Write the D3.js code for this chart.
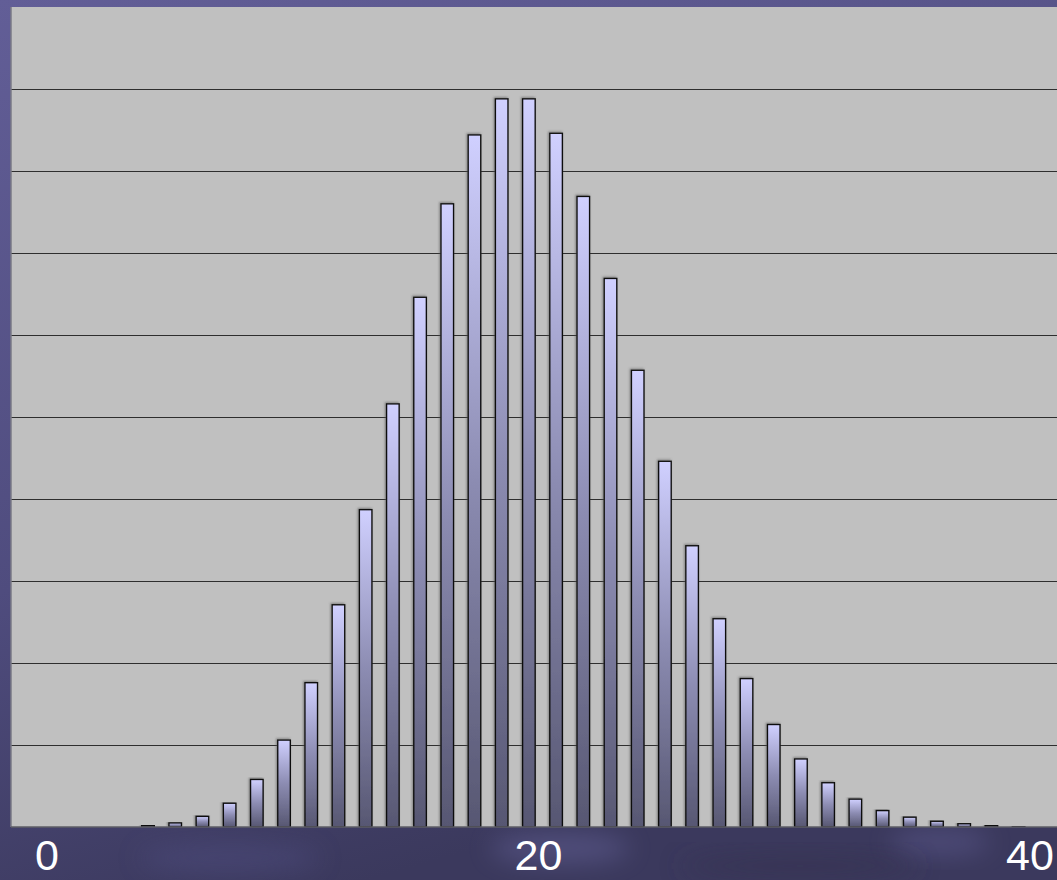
<!DOCTYPE html>
<html>
<head>
<meta charset="utf-8">
<script src="https://cdn.jsdelivr.net/npm/d3@7"></script>
<style>
  html, body { margin: 0; padding: 0; background: #47456e; overflow: hidden; }
  svg { display: block; }
</style>
</head>
<body>
<svg id="chart" width="1057" height="880"></svg>
<script>
// Outcome counts k and their probabilities
const categories = [6, 7, 8, 9, 10, 11, 12, 13, 14, 15, 16, 17, 18, 19, 20, 21, 22,
                    23, 24, 25, 26, 27, 28, 29, 30, 31, 32, 33, 34, 35, 36, 37, 38];
const probabilities = [0.0002, 0.0005, 0.0013, 0.0029, 0.0058, 0.0106, 0.0176, 0.0271,
                       0.0387, 0.0516, 0.0646, 0.0760, 0.0844, 0.0888, 0.0888, 0.0846,
                       0.0769, 0.0669, 0.0557, 0.0446, 0.0343, 0.0254, 0.0181, 0.0125,
                       0.0083, 0.0054, 0.0034, 0.0020, 0.0012, 0.0007, 0.0004, 0.0002,
                       0.0001];
const gridValues = [0.01, 0.02, 0.03, 0.04, 0.05, 0.06, 0.07, 0.08, 0.09];
const axisLabels = [0, 20, 40];

const W = 1057, H = 880;
const plot = { left: 11, top: 7, right: 1057, bottom: 827 };

const svg = d3.select("#chart");
const defs = svg.append("defs");

// Slide background: dark violet with soft lighter patches
const bg = defs.append("linearGradient").attr("id", "bgGrad")
  .attr("x1", "0").attr("y1", "0").attr("x2", "0.35").attr("y2", "1");
bg.append("stop").attr("offset", "0").attr("stop-color", "#625e97");
bg.append("stop").attr("offset", "0.6").attr("stop-color", "#4f4c7e");
bg.append("stop").attr("offset", "1").attr("stop-color", "#3b395d");

const blur = defs.append("filter").attr("id", "soft")
  .attr("x", "-50%").attr("y", "-50%").attr("width", "200%").attr("height", "200%");
blur.append("feGaussianBlur").attr("stdDeviation", 12);

svg.append("rect").attr("width", W).attr("height", H).attr("fill", "url(#bgGrad)");

const patches = [
  { cx: 560, cy: 848, rx: 70, ry: 16, c: "#6a68a0", o: 0.45 },
  { cx: 940, cy: 842, rx: 50, ry: 14, c: "#625f96", o: 0.45 },
  { cx: 230, cy: 858, rx: 90, ry: 14, c: "#4f4d80", o: 0.5 },
  { cx: 800, cy: 866, rx: 120, ry: 12, c: "#35334f", o: 0.6 }
];
svg.append("g").selectAll("ellipse").data(patches).join("ellipse")
  .attr("cx", d => d.cx).attr("cy", d => d.cy)
  .attr("rx", d => d.rx).attr("ry", d => d.ry)
  .attr("fill", d => d.c).attr("opacity", d => d.o)
  .attr("filter", "url(#soft)");

// Bar fill: lavender at the top fading to slate at the base of each bar
const barGrad = defs.append("linearGradient").attr("id", "barGrad")
  .attr("x1", "0").attr("y1", "0").attr("x2", "0").attr("y2", "1");
barGrad.append("stop").attr("offset", "0").attr("stop-color", "#d0d0ff");
barGrad.append("stop").attr("offset", "0.5").attr("stop-color", "#8c8cb2");
barGrad.append("stop").attr("offset", "1").attr("stop-color", "#575772");

const shadow = defs.append("filter").attr("id", "barShadow")
  .attr("x", "-30%").attr("y", "-5%").attr("width", "160%").attr("height", "110%");
shadow.append("feDropShadow").attr("dx", -1).attr("dy", -1)
  .attr("stdDeviation", 0.8).attr("flood-color", "#555").attr("flood-opacity", 0.6);

defs.append("clipPath").attr("id", "plotClip").append("rect")
  .attr("x", plot.left).attr("y", plot.top)
  .attr("width", plot.right - plot.left).attr("height", plot.bottom - plot.top);

// Scales
const x = d3.scaleBand()
  .domain(categories)
  .range([134.4, 1032.2])
  .paddingInner(0.537)
  .paddingOuter(0.2685);

const y = d3.scaleLinear().domain([0, 0.1]).range([plot.bottom, plot.top]);

const labelX = d3.scaleLinear().domain([0, 40]).range([47, 1030]);

// Plot area
svg.append("rect")
  .attr("x", plot.left).attr("y", plot.top)
  .attr("width", plot.right - plot.left).attr("height", plot.bottom - plot.top)
  .attr("fill", "#c0c0c0");

const g = svg.append("g").attr("clip-path", "url(#plotClip)");

// Horizontal gridlines
g.append("g")
  .attr("transform", `translate(${plot.left},0)`)
  .call(d3.axisLeft(y).tickValues(gridValues).tickSize(-(plot.right - plot.left)).tickFormat(""))
  .call(a => a.select(".domain").remove())
  .call(a => a.selectAll(".tick line").attr("stroke", "#2e2e2e").attr("stroke-width", 1.2));

// Bars
g.append("g").selectAll("rect")
  .data(categories.map((k, i) => ({ k, p: probabilities[i] })))
  .join("rect")
  .attr("x", d => x(d.k))
  .attr("width", x.bandwidth())
  .attr("y", d => y(d.p))
  .attr("height", d => Math.max(0.5, y(0) - y(d.p)))
  .attr("fill", "url(#barGrad)")
  .attr("stroke", "#111")
  .attr("stroke-width", 1.4)
  .attr("filter", "url(#barShadow)");

// Plot frame: left and bottom edges
svg.append("line")
  .attr("x1", plot.left).attr("x2", plot.left)
  .attr("y1", plot.top).attr("y2", plot.bottom)
  .attr("stroke", "#7a7a86").attr("stroke-width", 1.5);
svg.append("line")
  .attr("x1", plot.left).attr("x2", plot.right)
  .attr("y1", plot.bottom).attr("y2", plot.bottom)
  .attr("stroke", "#5e5e66").attr("stroke-width", 1.5);

// Axis labels below the plot
svg.append("g").selectAll("text")
  .data(axisLabels)
  .join("text")
  .attr("x", d => labelX(d))
  .attr("y", 870)
  .attr("text-anchor", "middle")
  .attr("font-family", "Liberation Sans, Arial, sans-serif")
  .attr("font-size", 43)
  .attr("fill", "#ffffff")
  .text(d => d);
</script>
</body>
</html>
